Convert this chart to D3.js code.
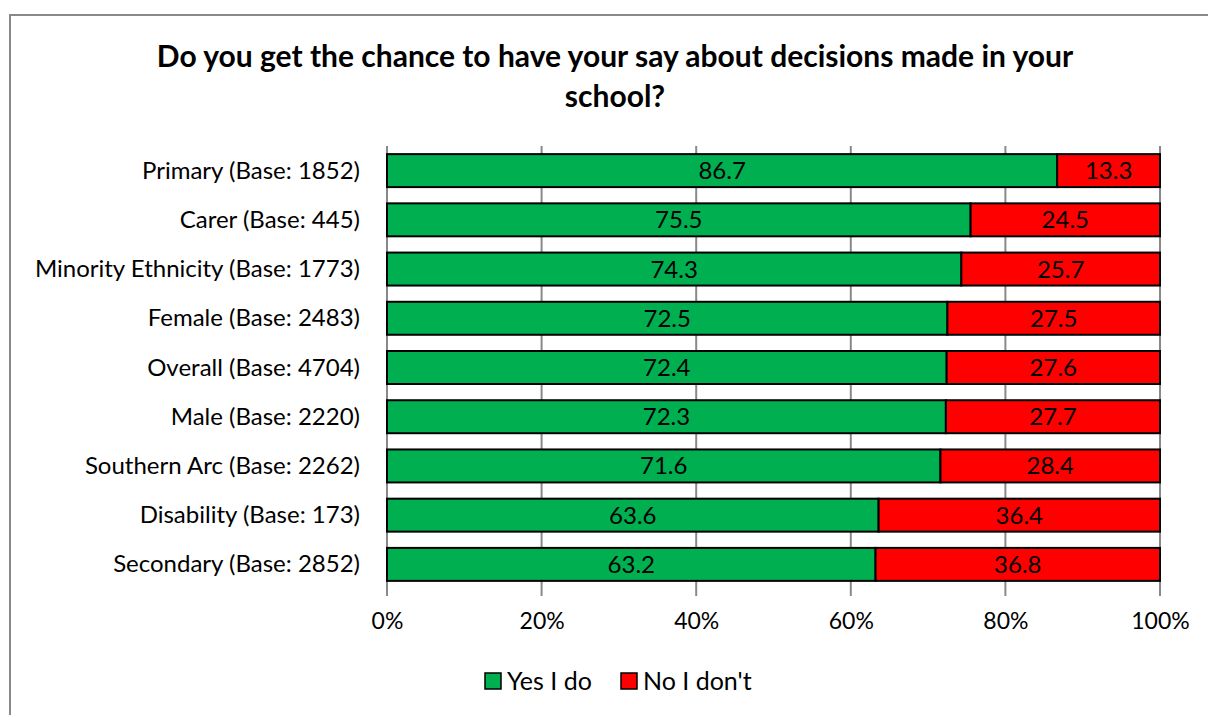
<!DOCTYPE html>
<html><head><meta charset="utf-8">
<script src="https://cdn.jsdelivr.net/npm/d3@7"></script>
<style>body{margin:0;background:#fff}svg{display:block}text{font-family:Lato,"Open Sans",sans-serif}</style>
</head><body><svg id="c" width="1208" height="715"></svg>
<script>
const categories = ["Primary (Base: 1852)","Carer (Base: 445)","Minority Ethnicity (Base: 1773)","Female (Base: 2483)","Overall (Base: 4704)","Male (Base: 2220)","Southern Arc (Base: 2262)","Disability (Base: 173)","Secondary (Base: 2852)"];
const yesValues = [86.7,75.5,74.3,72.5,72.4,72.3,71.6,63.6,63.2];
const noValues = [13.3,24.5,25.7,27.5,27.6,27.7,28.4,36.4,36.8];
const seriesNames = ["Yes I do","No I don't"];
const colors = ["#00b050","#ff0000"];
const tickValues = [0,0.2,0.4,0.6,0.8,1];
const titleLines = ["Do you get the chance to have your say about decisions made in your","school?"];

const svg = d3.select("#c");
svg.append("rect").attr("x",10).attr("y",15).attr("width",1210).attr("height",720)
  .attr("fill","#fff").attr("stroke","#898989").attr("stroke-width",2);

titleLines.forEach((t,i)=>svg.append("text").attr("x",615).attr("y",67+i*40)
  .attr("text-anchor","middle").attr("font-size",30).attr("font-weight","bold").attr("fill","#000").text(t));

const x = d3.scaleLinear().domain([0,1]).range([387,1160]);
const y = d3.scaleBand().domain(categories).range([146,589]).paddingInner(0.33).paddingOuter(0.165);

svg.append("g").selectAll("line").data(tickValues).join("line")
  .attr("x1",d=>x(d)).attr("x2",d=>x(d)).attr("y1",146).attr("y2",596)
  .attr("stroke","#898989").attr("stroke-width",2);

const stack = categories.map((c,i)=>({c, segs:[{k:0,x0:0,x1:yesValues[i]/100,v:yesValues[i]},{k:1,x0:yesValues[i]/100,x1:1,v:noValues[i]}]}));
const rows = svg.append("g").selectAll("g").data(stack).join("g");
rows.selectAll("rect").data(d=>d.segs.map(s=>({...s,c:d.c}))).join("rect")
  .attr("x",d=>x(d.x0)).attr("width",d=>x(d.x1)-x(d.x0))
  .attr("y",d=>y(d.c)).attr("height",y.bandwidth())
  .attr("fill",d=>colors[d.k]).attr("stroke","#000").attr("stroke-width",2);
rows.selectAll("text").data(d=>d.segs.map(s=>({...s,c:d.c}))).join("text")
  .attr("x",d=>(x(d.x0)+x(d.x1))/2).attr("y",d=>y(d.c)+y.bandwidth()/2+8.5)
  .attr("text-anchor","middle").attr("font-size",24).attr("fill","#000").text(d=>d.v.toFixed(1));

svg.append("g").selectAll("text").data(categories).join("text")
  .attr("x",360).attr("y",d=>y(d)+y.bandwidth()/2+8).attr("text-anchor","end")
  .attr("font-size",24).attr("fill","#000").text(d=>d);

const xa = svg.append("g").attr("transform","translate(0,596)")
  .call(d3.axisBottom(x).tickValues(tickValues).tickFormat(d3.format(".0%")).tickSize(0).tickPadding(17));
xa.select(".domain").remove();
xa.selectAll("text").attr("font-size",23).attr("fill","#000").attr("font-family","Lato,sans-serif");

const lx = [485,621];
seriesNames.forEach((n,i)=>{
  svg.append("rect").attr("x",lx[i]).attr("y",673).attr("width",16).attr("height",16)
    .attr("fill",colors[i]).attr("stroke","#000").attr("stroke-width",1.5);
  svg.append("text").attr("x",lx[i]+22).attr("y",690).attr("font-size",25).attr("fill","#000").text(n);
});
</script></body></html>
